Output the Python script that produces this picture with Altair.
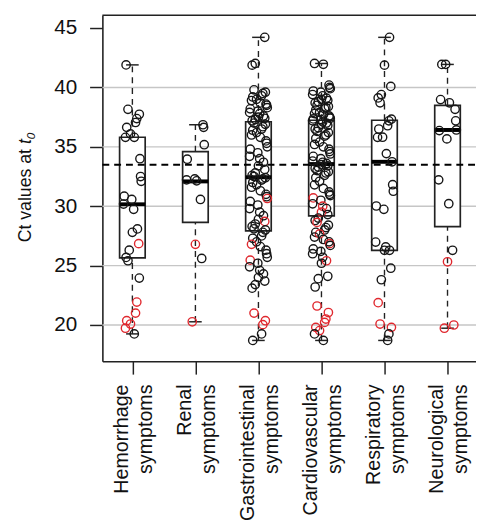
import json
import altair as alt
import pandas as pd

# ---------------- data ----------------
CATEGORIES = ["Hemorrhage symptoms", "Renal symptoms", "Gastrointestinal symptoms",
              "Cardiovascular symptoms", "Respiratory symptoms", "Neurological symptoms"]
Y_TICKS = [20, 25, 30, 35, 40, 45]
GRID_VALUES = [20, 25, 30, 35, 40]
THRESHOLD = 33.5

BOX_LOWER = [19.25, 20.27, 18.7, 18.7, 18.7, 19.73]
BOX_Q1 = [25.65, 28.64, 27.92, 29.19, 26.29, 28.28]
BOX_MEDIAN = [30.16, 32.09, 32.44, 33.55, 33.74, 36.42]
BOX_Q3 = [35.81, 34.6, 37.11, 37.24, 37.24, 38.49]
BOX_UPPER = [41.9, 36.86, 44.22, 42.02, 44.22, 41.94]

HEM_BLACK = [41.9, 38.16, 37.74, 37.38, 37.05, 36.64, 36.09, 35.8, 35.8, 34.0, 32.5, 32.1,
             30.85, 30.57, 30.18, 29.74, 28.09, 27.8, 26.3, 25.69, 25.41, 23.95, 19.25]
HEM_RED = [26.85, 21.93, 21.0, 20.36, 20.08, 19.73]

REN_BLACK = [36.86, 36.64, 35.18, 33.96, 32.3, 32.22, 32.14, 30.57, 25.6]
REN_RED = [26.79, 20.27]

GI_BLACK = [44.22, 42.02, 41.88, 39.8, 39.6, 39.5, 39.3, 39.2, 39.0, 38.9, 38.7, 38.6, 38.5,
            38.3, 38.2, 38.0, 37.9, 37.8, 37.6, 37.5, 37.4, 37.3, 37.2, 37.0, 36.9, 36.7,
            36.5, 36.4, 36.2, 36.0, 35.8, 35.5, 35.3, 35.0, 34.8, 34.5, 34.2, 34.0, 33.7,
            33.4, 33.1, 32.8, 32.6, 32.5, 32.4, 32.3, 32.2, 32.0, 31.8, 31.6, 31.3, 31.0,
            30.8, 30.4, 30.1, 29.8, 29.5, 29.2, 28.9, 28.5, 28.3, 28.1, 28.0, 27.8, 27.5,
            27.3, 27.0, 26.6, 26.3, 26.0, 25.7, 25.2, 24.9, 24.6, 24.3, 24.0, 23.7, 23.4,
            23.1, 19.25, 18.7]
GI_RED = [30.65, 28.72, 26.79, 25.46, 21.0, 20.36, 20.03]

CV_BLACK = [42.02, 41.95, 40.2, 40.0, 39.9, 39.7, 39.6, 39.4, 39.3, 39.1, 39.0, 38.9, 38.8,
            38.7, 38.5, 38.4, 38.3, 38.2, 38.1, 37.9, 37.8, 37.7, 37.6, 37.5, 37.4, 37.35,
            37.3, 37.2, 37.1, 37.0, 36.9, 36.8, 36.6, 36.5, 36.3, 36.2, 36.0, 35.9, 35.7,
            35.4, 35.2, 35.0, 34.8, 34.6, 34.4, 34.2, 34.0, 33.8, 33.7, 33.6, 33.5, 33.4,
            33.3, 33.2, 33.0, 32.9, 32.8, 32.6, 32.4, 32.1, 31.8, 31.5, 31.2, 31.0, 30.9,
            30.5, 30.2, 29.8, 29.3, 29.0, 28.8, 28.4, 28.2, 28.0, 27.8, 27.4, 27.2, 27.0,
            26.7, 26.4, 26.2, 26.0, 25.7, 25.2, 24.1, 23.9, 23.2, 19.25, 18.7]
CV_RED = [30.7, 30.0, 29.5, 28.64, 27.67, 26.85, 25.41, 21.6, 21.05, 20.5, 20.22, 19.8, 19.53]

RESP_BLACK = [44.22, 41.88, 40.09, 39.4, 39.12, 38.71, 37.33, 37.19, 36.78, 36.5, 35.81, 35.8,
              34.43, 33.74, 31.81, 31.26, 30.02, 29.74, 26.98, 26.57, 26.29, 26.29, 24.78,
              23.81, 19.25, 18.7]
RESP_RED = [21.88, 20.08, 19.8]

NEU_BLACK = [41.94, 41.94, 38.98, 38.71, 38.16, 37.19, 36.42, 36.37, 35.67, 32.22, 30.21, 26.29]
NEU_RED = [25.32, 20.0, 19.73]

BLACK = [HEM_BLACK, REN_BLACK, GI_BLACK, CV_BLACK, RESP_BLACK, NEU_BLACK]
RED = [HEM_RED, REN_RED, GI_RED, CV_RED, RESP_RED, NEU_RED]

# fixed (non-random) horizontal jitter pattern, in category units
JITTER_PATTERN = [-0.10, 0.07, -0.03, 0.12, -0.13, 0.02, 0.10, -0.07, 0.05, -0.11,
                  0.13, -0.01, 0.08, -0.05, 0.11, -0.09, 0.03, 0.14, -0.14, 0.0]

# ---------------- tables ----------------
box_df = pd.DataFrame({
    "pos": list(range(1, len(CATEGORIES) + 1)),
    "lower": BOX_LOWER, "q1": BOX_Q1, "median": BOX_MEDIAN, "q3": BOX_Q3, "upper": BOX_UPPER,
})

rows = []
for i in range(len(CATEGORIES)):
    vals = [(v, "black") for v in BLACK[i]] + [(v, "red") for v in RED[i]]
    vals.sort(key=lambda t: -t[0])
    for j, (v, c) in enumerate(vals):
        jit = JITTER_PATTERN[(j * 7 + i * 3) % len(JITTER_PATTERN)]
        rows.append({"pos": i + 1, "xj": i + 1 + jit, "ct": v, "grp": c})
pts_df = pd.DataFrame(rows)

grid_df = pd.DataFrame({"v": GRID_VALUES})
thr_df = pd.DataFrame({"v": [THRESHOLD]})

W, H = 380, 352
FONT = "Liberation Sans"
DARK = "#222222"

xscale = alt.Scale(domain=[0.524, 6.452], nice=False, zero=False)
yscale = alt.Scale(domain=[16.94, 46.08], nice=False, zero=False)

label_expr = "split(" + json.dumps(CATEGORIES) + "[datum.value - 1], ' ')"
xaxis = alt.Axis(values=list(range(1, len(CATEGORIES) + 1)), labelExpr=label_expr,
                 labelAngle=270, labelAlign="right", labelBaseline="middle",
                 labelFont=FONT, labelFontSize=20, labelLineHeight=24, labelPadding=10,
                 labelOffset=-11,
                 labelColor="#111", labelOverlap=False, labelFlush=False,
                 tickSize=13, tickWidth=1.5, tickColor=DARK,
                 domainColor=DARK, domainWidth=1.6, grid=False, title=None)
yaxis = alt.Axis(values=Y_TICKS, labelFont=FONT, labelFontSize=21, labelPadding=13,
                 labelColor="#111", tickSize=13, tickWidth=1.5, tickColor=DARK,
                 domainColor=DARK, domainWidth=1.6, grid=False, title=None)

X = lambda f: alt.X(f, type="quantitative", scale=xscale, axis=xaxis)
Y = lambda f: alt.Y(f, type="quantitative", scale=yscale, axis=yaxis)

grid = alt.Chart(grid_df).mark_rule(color="#c6c6c6", strokeWidth=1.4).encode(
    y=Y("v"), x=alt.value(0), x2=alt.value(W))

base_box = alt.Chart(box_df).transform_calculate(
    xl="datum.pos - 0.203", xr="datum.pos + 0.203",
    sl="datum.pos - 0.1", sr="datum.pos + 0.1")

whisk_up = base_box.mark_rule(color=DARK, strokeWidth=1.4, strokeDash=[6, 5]).encode(
    x=X("pos"), y=Y("q3"), y2="upper")
whisk_lo = base_box.mark_rule(color=DARK, strokeWidth=1.4, strokeDash=[6, 5]).encode(
    x=X("pos"), y=Y("lower"), y2="q1")
staple_up = base_box.mark_rule(color=DARK, strokeWidth=1.5).encode(
    x=X("sl"), x2="sr", y=Y("upper"))
staple_lo = base_box.mark_rule(color=DARK, strokeWidth=1.5).encode(
    x=X("sl"), x2="sr", y=Y("lower"))
boxes = base_box.mark_rect(fill="white", stroke=DARK, strokeWidth=1.7).encode(
    x=X("xl"), x2="xr", y=Y("q1"), y2="q3")
medians = base_box.mark_rule(color="#000", strokeWidth=4, strokeCap="butt").encode(
    x=X("xl"), x2="xr", y=Y("median"))

thr = alt.Chart(thr_df).mark_rule(color="#000", strokeWidth=2, strokeDash=[7, 5]).encode(
    y=Y("v"), x=alt.value(0), x2=alt.value(W))

points = alt.Chart(pts_df).mark_point(shape="circle", filled=False, size=72,
                                      strokeWidth=1.4, opacity=1).encode(
    x=X("xj"), y=Y("ct"),
    color=alt.Color("grp:N", scale=alt.Scale(domain=["black", "red"],
                                             range=["#161616", "#e0282e"]), legend=None))

top = alt.Chart(thr_df).mark_rule(color=DARK, strokeWidth=1.6).encode(
    y=alt.value(0), x=alt.value(0), x2=alt.value(W))

title_df = pd.DataFrame({"a": ["Ct values at"], "b": ["t"], "c": ["0"]})
t1 = alt.Chart(title_df).mark_text(angle=270, align="left", baseline="alphabetic",
                                   font=FONT, fontSize=18, color="#111").encode(
    text="a:N", x=alt.value(-73), y=alt.value(231))
t2 = alt.Chart(title_df).mark_text(angle=270, align="left", baseline="alphabetic",
                                   font=FONT, fontSize=18, fontStyle="italic", color="#111").encode(
    text="b:N", x=alt.value(-73), y=alt.value(131))
t3 = alt.Chart(title_df).mark_text(angle=270, align="left", baseline="alphabetic",
                                   font=FONT, fontSize=12, fontStyle="italic", color="#111").encode(
    text="c:N", x=alt.value(-69), y=alt.value(126))

chart = alt.layer(grid, whisk_up, whisk_lo, staple_up, staple_lo, boxes, medians, thr,
                  points, top, t1, t2, t3).properties(
    width=W, height=H,
    autosize=alt.AutoSizeParams(type="none"),
    padding={"left": 96, "top": 3, "right": 0, "bottom": 157},
).configure_view(stroke=None)

chart.save("out.html", embed_options={"renderer": "svg", "actions": False})
